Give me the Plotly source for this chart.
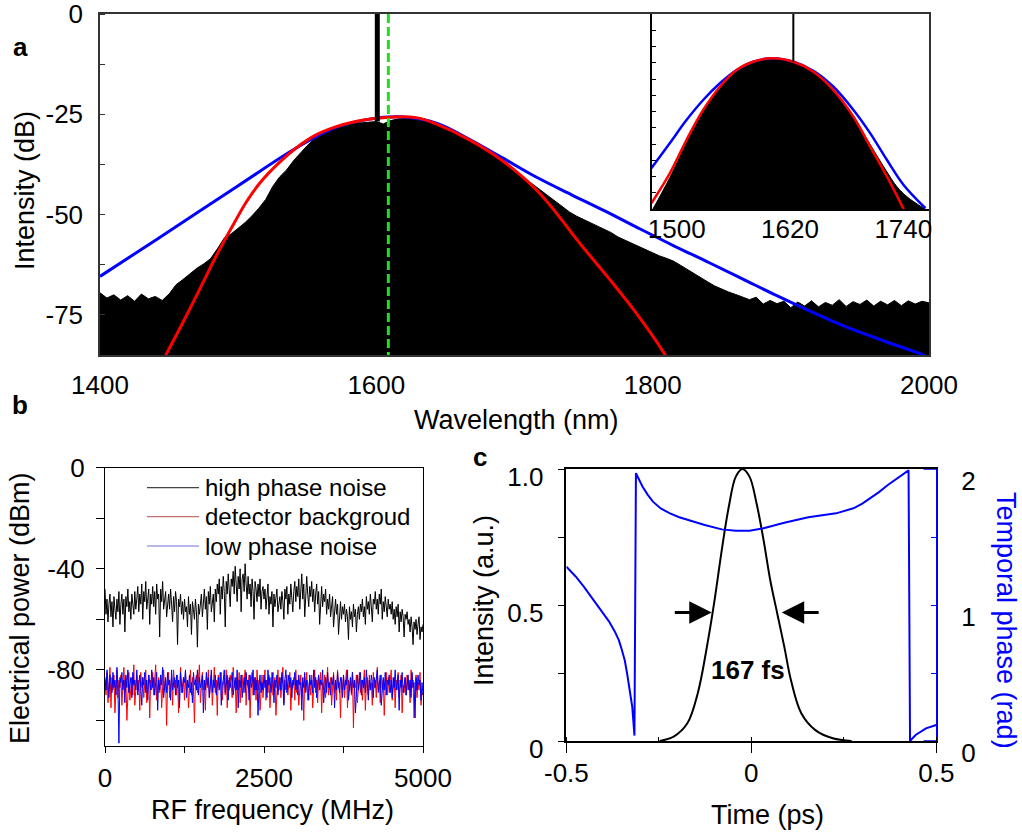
import numpy as np
import plotly.graph_objects as go

W, H = 1022, 833
FONT = "Liberation Sans, Arial, sans-serif"

# ---------------- panel a: optical spectrum ----------------
spec_wl = list(range(1400, 2001, 5))
spec_db = [
    -69.5, -70.8, -70.0, -71.3, -70.2, -71.6, -69.8, -71.0, -70.4, -71.4,   # 1400-1445
    -69.8, -67.5, -66.2, -64.8, -63.4, -62.3, -61.0, -58.5, -55.8, -54.8,   # 1450-1495
    -53.5, -52.0, -50.3, -48.4, -46.2, -43.0, -40.6, -38.9, -36.6, -34.7,   # 1500-1545
    -32.8, -31.2, -30.0, -29.0, -28.3, -27.8, -27.5, -27.2, -27.1, -26.9,   # 1550-1595
    -26.8, -27.4, -26.6, -26.2, -26.0, -25.9, -26.1, -26.4, -26.9, -27.5,   # 1600-1645
    -28.2, -29.0, -29.8, -30.7, -31.6, -32.8, -34.0, -35.3, -36.5, -37.8,   # 1650-1695
    -39.0, -40.3, -41.6, -42.8, -44.2, -45.5, -46.8, -48.1, -49.4, -50.4,   # 1700-1745
    -51.2, -52.1, -52.9, -53.6, -54.5, -55.6, -56.4, -57.2, -57.9, -58.7,   # 1750-1795
    -59.6, -60.3, -60.9, -61.6, -62.6, -63.7, -64.8, -65.8, -66.8, -67.8,   # 1800-1845
    -68.6, -69.3, -69.9, -70.5, -71.2, -70.6, -72.3, -71.4, -72.2, -71.6,   # 1850-1895
    -73.2, -71.8, -72.8, -71.5, -73.0, -71.9, -72.6, -71.2, -72.9, -71.7,   # 1900-1945
    -72.4, -71.3, -72.8, -71.6, -72.5, -71.4, -72.7, -71.5, -72.3, -71.6,   # 1950-1995
    -72.0,                                                                  # 2000
]
spec_floor = [-90.0] * len(spec_wl)

gauss_wl = [1440, 1448, 1460, 1472, 1484, 1496, 1506, 1516, 1528, 1542, 1556, 1570,
            1585, 1600, 1617, 1630, 1641, 1667, 1691, 1718, 1749, 1769, 1788, 1808, 1814]
gauss_db = [-90.5, -84.8, -76.9, -68.7, -60.4, -52.8, -46.8, -42.0, -37.6, -33.4,
            -30.2, -28.2, -26.8, -26.0, -25.6, -25.9, -27.1, -31.3, -36.5, -44.6,
            -57.9, -66.2, -74.5, -84.4, -88.0]

sech_wl = [1400, 1441, 1500, 1542, 1570, 1595, 1620, 1645, 1666, 1691, 1716, 1741,
           1766, 1791, 1816, 1841, 1866, 1891, 1916, 1940, 1965, 1993, 2000]
sech_db = [-65.4, -56.2, -42.8, -33.4, -28.4, -26.2, -25.7, -27.4, -31.0, -35.8,
           -40.7, -45.0, -49.2, -53.6, -57.9, -62.0, -66.2, -70.4, -74.4, -78.0,
           -81.2, -84.6, -85.6]

cw_line_wl = [1600.7, 1600.7]
cw_line_db = [0.0, -26.8]
center_wl = [1608.7, 1608.7]
center_db = [0.0, -85.0]

# inset (linear scale)
ins_spec_wl = [1474.8, 1492.6, 1510.3, 1528.0, 1545.7, 1563.4, 1581.0, 1600.5, 1623.5,
               1644.7, 1666.0, 1687.2, 1705.0, 1722.7, 1733.3, 1743.9, 1758.0, 1763.4]
ins_spec = [0.0, 0.16, 0.34, 0.50, 0.625, 0.712, 0.755, 0.772, 0.755, 0.705, 0.612,
            0.475, 0.33, 0.19, 0.114, 0.063, 0.015, 0.0]
ins_gauss_wl = [1473.1, 1492.6, 1510.3, 1528.0, 1545.7, 1563.4, 1581.0, 1600.5, 1623.5,
                1644.7, 1666.0, 1687.2, 1705.0, 1722.7, 1740.3]
ins_gauss = [0.029, 0.183, 0.354, 0.508, 0.627, 0.713, 0.755, 0.773, 0.755, 0.704,
             0.610, 0.473, 0.319, 0.166, 0.0]
ins_sech_wl = [1473.1, 1492.6, 1510.3, 1528.0, 1545.7, 1563.4, 1581.0, 1600.5, 1623.5,
               1644.7, 1666.0, 1687.2, 1705.0, 1722.7, 1740.3, 1763.4]
ins_sech = [0.209, 0.337, 0.456, 0.559, 0.645, 0.713, 0.755, 0.773, 0.755, 0.709,
            0.627, 0.508, 0.388, 0.251, 0.123, 0.004]
ins_line_wl = [1623.5, 1623.5]
ins_line_v = [1.0, 0.755]

# ---------------- panel b: RF spectra ----------------
rf_freq = np.linspace(0, 5000, 321)
rf_high = [
    -48, -58, -52, -61, -54, -50, -59, -53, -63, -51, -56, -60, -52, -57, -49, -62,
    -54, -50, -58, -52, -65, -51, -55, -48, -57, -53, -60, -50, -54, -58, -49, -56,
    -52, -47, -57, -50, -54, -46, -60, -49, -53, -45, -56, -51, -48, -62, -50, -54,
    -47, -55, -49, -58, -46, -52, -50, -67, -48, -53, -45, -56, -51, -49, -59, -52,
    -50, -56, -48, -54, -61, -51, -57, -49, -53, -70, -52, -55, -50, -58, -53, -60,
    -52, -57, -55, -63, -51, -58, -54, -66, -53, -56, -60, -52, -57, -71, -54, -58,
    -55, -50, -59, -53, -48, -56, -51, -64, -49, -54, -47, -57, -52, -50, -61, -48,
    -53, -46, -50, -44, -58, -47, -52, -43, -49, -63, -45, -50, -42, -48, -55, -44,
    -47, -41, -50, -39, -45, -53, -43, -48, -40, -57, -44, -42, -49, -38, -46, -52,
    -43, -50, -46, -55, -44, -49, -60, -45, -48, -53, -46, -51, -44, -56, -49, -47,
    -52, -48, -56, -50, -46, -58, -51, -54, -49, -63, -50, -55, -52, -48, -57, -53,
    -51, -56, -49, -53, -60, -48, -52, -47, -58, -50, -54, -46, -51, -57, -49, -45,
    -53, -47, -51, -44, -56, -49, -42, -52, -46, -59, -48, -43, -50, -55, -47, -51,
    -45, -53, -48, -57, -50, -46, -54, -49, -62, -51, -47, -55, -50, -53, -48, -58,
    -52, -56, -50, -59, -54, -51, -63, -55, -52, -58, -54, -66, -56, -53, -60, -55,
    -58, -54, -61, -56, -59, -68, -55, -60, -57, -63, -54, -59, -56, -65, -58, -55,
    -60, -54, -57, -52, -59, -55, -62, -51, -56, -53, -58, -50, -55, -61, -52, -54,
    -49, -56, -52, -58, -50, -54, -48, -60, -53, -57, -51, -55, -59, -52, -56, -54,
    -58, -53, -60, -56, -62, -55, -59, -54, -65, -57, -61, -56, -59, -67, -58, -60,
    -57, -62, -60, -65, -59, -63, -70, -61, -64, -60, -66, -62, -59, -68, -63, -65,
    -62,
]
rf_background = [
    -84, -90, -81, -93, -86, -79, -95, -83, -88, -82, -97, -85, -80, -91, -84, -87,
    -82, -94, -86, -79, -89, -83, -100, -85, -81, -92, -87, -83, -90, -78, -94, -86,
    -82, -88, -84, -96, -81, -87, -83, -91, -85, -80, -93, -86, -82, -99, -84, -88,
    -81, -90, -85, -78, -92, -87, -83, -89, -82, -95, -86, -80, -88, -84, -102, -85,
    -81, -91, -86, -83, -94, -80, -87, -84, -90, -82, -97, -85, -79, -89, -86, -83,
    -92, -81, -88, -84, -95, -86, -80, -90, -83, -87, -101, -84, -82, -89, -85, -78,
    -93, -86, -81, -88, -84, -96, -83, -87, -80, -91, -85, -82, -94, -86, -79, -89,
    -84, -98, -82, -87, -85, -81, -92, -86, -83, -90, -80, -95, -84, -88, -82, -86,
    -91, -79, -87, -84, -97, -83, -88, -81, -93, -85, -82, -89, -86, -80, -94, -84,
    -87, -82, -99, -85, -81, -90, -86, -83, -92, -80, -88, -84, -96, -85, -82, -91,
    -86, -80, -92, -84, -89, -82, -95, -87, -81, -90, -85, -83, -98, -86, -80, -88,
    -83, -91, -85, -79, -93, -84, -88, -82, -90, -86, -81, -96, -85, -87, -83, -92,
    -80, -89, -84, -94, -86, -82, -91, -85, -100, -83, -88, -81, -92, -86, -84, -90,
    -82, -95, -87, -80, -89, -84, -93, -83, -86, -81, -97, -85, -88, -82, -91, -86,
    -79, -90, -85, -83, -94, -86, -81, -89, -84, -92, -80, -87, -85, -99, -83, -88,
    -82, -91, -86, -80, -95, -84, -88, -83, -90, -81, -103, -85, -87, -82, -93, -86,
    -81, -89, -84, -92, -86, -80, -96, -85, -83, -90, -82, -88, -85, -94, -81, -87,
    -84, -91, -79, -88, -85, -93, -82, -87, -84, -98, -86, -81, -90, -83, -89, -85,
    -80, -92, -86, -83, -95, -84, -88, -81, -91, -85, -82, -97, -86, -89, -83, -90,
    -82, -88, -85, -93, -80, -87, -84, -99, -86, -82, -91, -85, -88, -81, -94, -89,
    -90,
]
rf_low = [
    -83, -88, -80, -86, -91, -82, -85, -89, -81, -87, -84, -90, -79, -86, -109, -83,
    -85, -81, -88, -84, -93, -82, -87, -80, -89, -85, -83, -91, -81, -86, -84, -88,
    -80, -90, -85, -82, -87, -94, -83, -86, -81, -89, -84, -92, -82, -85, -88, -80,
    -87, -83, -90, -85, -81, -96, -84, -88, -82, -86, -79, -91, -85, -83, -89, -81,
    -86, -84, -92, -80, -88, -85, -83, -90, -82, -87, -84, -95, -81, -86, -89, -83,
    -85, -80, -91, -84, -87, -82, -89, -85, -93, -81, -86, -84, -88, -80, -90, -83,
    -87, -85, -82, -97, -84, -88, -81, -86, -83, -91, -85, -80, -89, -84, -87, -82,
    -90, -85, -83, -88, -81, -94, -86, -84, -80, -89, -85, -82, -92, -83, -87, -84,
    -81, -90, -86, -83, -88, -80, -95, -84, -87, -82, -91, -85, -83, -89, -81, -86,
    -84, -92, -82, -87, -85, -80, -90, -83, -88, -84, -98, -86, -82, -89, -85, -88,
    -82, -87, -84, -91, -80, -86, -83, -89, -85, -81, -93, -84, -87, -82, -90, -85,
    -83, -88, -81, -86, -94, -84, -80, -89, -85, -82, -87, -83, -91, -84, -86, -81,
    -88, -84, -90, -82, -86, -85, -96, -83, -87, -81, -89, -84, -85, -92, -82, -86,
    -84, -89, -80, -87, -83, -91, -85, -82, -88, -84, -86, -80, -93, -85, -83, -89,
    -81, -87, -85, -90, -83, -86, -82, -95, -84, -88, -81, -86, -89, -83, -85, -91,
    -82, -88, -84, -86, -80, -92, -85, -83, -89, -81, -87, -84, -97, -86, -82, -88,
    -85, -81, -90, -84, -87, -83, -89, -80, -86, -92, -84, -88, -82, -85, -91, -83,
    -87, -84, -80, -89, -85, -82, -94, -86, -83, -88, -81, -90, -84, -86, -82, -89,
    -84, -91, -83, -87, -80, -88, -85, -82, -96, -84, -87, -81, -89, -85, -83, -90,
    -86, -82, -88, -84, -91, -81, -87, -85, -99, -83, -88, -82, -86, -84, -92, -85,
    -90,
]
legend_names = ["high phase noise", "detector backgroud", "low phase noise"]
legend_colors = ["#444444", "#c07070", "#7070d8"]

# ---------------- panel c: temporal pulse ----------------
t_int = [-0.248, -0.210, -0.173, -0.145, -0.117, -0.098, -0.080, -0.061, -0.042, -0.024,
         -0.005, 0.014, 0.033, 0.051, 0.070, 0.089, 0.107, 0.135, 0.173, 0.220, 0.271]
intensity = [0.0, 0.016, 0.065, 0.175, 0.371, 0.531, 0.702, 0.861, 0.972, 1.0,
             0.972, 0.874, 0.739, 0.592, 0.469, 0.347, 0.224, 0.102, 0.040, 0.010, 0.0]
t_ph = [-0.500, -0.475, -0.453, -0.430, -0.407, -0.385, -0.369, -0.358, -0.350, -0.342,
        -0.336, -0.329, -0.322, -0.316, -0.312, -0.305, -0.294, -0.280, -0.266, -0.245,
        -0.220, -0.195, -0.173, -0.126, -0.080, -0.042, -0.005, 0.033, 0.089, 0.154,
        0.229, 0.276, 0.300, 0.322, 0.345, 0.369, 0.400, 0.425, 0.429, 0.444, 0.472, 0.500]
phase = [1.282, 1.210, 1.135, 1.050, 0.963, 0.880, 0.804, 0.740, 0.669, 0.590,
         0.498, 0.380, 0.252, 0.040, 1.970, 1.930, 1.870, 1.810, 1.760, 1.710,
         1.674, 1.645, 1.625, 1.588, 1.556, 1.546, 1.546, 1.564, 1.605, 1.645,
         1.674, 1.711, 1.745, 1.785, 1.830, 1.882, 1.940, 1.990, 0.000, 0.044, 0.093, 0.118]
fwhm_left = [-0.211, -0.107]
fwhm_right = [0.186, 0.082]
fwhm_level = 0.472

fig = go.Figure()

# panel a
fig.add_trace(go.Scatter(x=spec_wl, y=spec_floor, mode="lines", line=dict(width=0, color="black"),
                         showlegend=False, hoverinfo="skip", xaxis="x", yaxis="y"))
fig.add_trace(go.Scatter(x=spec_wl, y=spec_db, mode="lines", fill="tonexty", fillcolor="black",
                         line=dict(width=1, color="black"), showlegend=False, xaxis="x", yaxis="y"))
fig.add_trace(go.Scatter(x=sech_wl, y=sech_db, mode="lines", line=dict(color="#0000ff", width=3, shape="spline"),
                         showlegend=False, xaxis="x", yaxis="y"))
fig.add_trace(go.Scatter(x=gauss_wl, y=gauss_db, mode="lines", line=dict(color="#ff0000", width=3, shape="spline"),
                         showlegend=False, xaxis="x", yaxis="y"))
fig.add_trace(go.Scatter(x=cw_line_wl, y=cw_line_db, mode="lines", line=dict(color="black", width=5),
                         showlegend=False, xaxis="x", yaxis="y"))
fig.add_trace(go.Scatter(x=center_wl, y=center_db, mode="lines",
                         line=dict(color="#22dd22", width=3, dash="9px,4px"),
                         showlegend=False, xaxis="x", yaxis="y"))

# inset
fig.add_trace(go.Scatter(x=ins_spec_wl, y=ins_spec, mode="lines", fill="tozeroy", fillcolor="black",
                         line=dict(color="black", width=1, shape="spline"), showlegend=False,
                         xaxis="x2", yaxis="y2"))
fig.add_trace(go.Scatter(x=ins_sech_wl, y=ins_sech, mode="lines", line=dict(color="#0000ff", width=2.5, shape="spline"),
                         showlegend=False, xaxis="x2", yaxis="y2"))
fig.add_trace(go.Scatter(x=ins_gauss_wl, y=ins_gauss, mode="lines", line=dict(color="#ff0000", width=2.5, shape="spline"),
                         showlegend=False, xaxis="x2", yaxis="y2"))
fig.add_trace(go.Scatter(x=ins_line_wl, y=ins_line_v, mode="lines", line=dict(color="black", width=2),
                         showlegend=False, xaxis="x2", yaxis="y2"))

# panel b
fig.add_trace(go.Scatter(x=rf_freq, y=rf_high, mode="lines", name=legend_names[0], showlegend=False,
                         line=dict(color="black", width=1), xaxis="x3", yaxis="y3"))
fig.add_trace(go.Scatter(x=rf_freq, y=rf_background, mode="lines", name=legend_names[1], showlegend=False,
                         line=dict(color="#ff0000", width=1), xaxis="x3", yaxis="y3"))
fig.add_trace(go.Scatter(x=rf_freq, y=rf_low, mode="lines", name=legend_names[2], showlegend=False,
                         line=dict(color="#0000ff", width=1), xaxis="x3", yaxis="y3"))

# panel c
fig.add_trace(go.Scatter(x=t_int, y=intensity, mode="lines", line=dict(color="black", width=2, shape="spline"),
                         showlegend=False, xaxis="x4", yaxis="y4"))
fig.add_trace(go.Scatter(x=t_ph, y=phase, mode="lines", line=dict(color="#0000ff", width=2),
                         showlegend=False, xaxis="x4", yaxis="y5"))

axis_common = dict(showgrid=False, zeroline=False, color="black", automargin=False,
                   ticklabeloverflow="allow")

XA0, XA1 = 100, 929
XC0, XC1 = 566.4, 936.3

fig.update_layout(
    template="none",
    width=W, height=H, margin=dict(l=0, r=0, t=0, b=0, pad=0),
    paper_bgcolor="white", plot_bgcolor="white",
    font=dict(family=FONT, size=26, color="black"),
    showlegend=False,
    xaxis=dict(domain=[XA0 / W, XA1 / W], range=[1400, 2000], anchor="y",
               showline=True, mirror=True, linecolor="#333", linewidth=1.5,
               ticks="", tickvals=[1400, 1600, 1800, 2000], ticklabelstandoff=6, **axis_common),
    yaxis=dict(domain=[1 - 355 / H, 1 - 14 / H], range=[-85, 0], anchor="x",
               showline=True, mirror=True, linecolor="#333", linewidth=1.5,
               ticks="", tickvals=[0, -25, -50, -75], ticktext=["0", "-25", "-50", "-75"],
               ticklabelstandoff=10,
               minor=dict(ticks="inside", dtick=12.5, ticklen=5, tickcolor="#333"), **axis_common),
    xaxis2=dict(domain=[652 / W, XA1 / W], range=[1473.8, 1767.2], anchor="y2",
                showline=True, linecolor="black", linewidth=1.5, ticks="",
                tickvals=[1500, 1620, 1740], ticklabelstandoff=-4, **axis_common),
    yaxis2=dict(domain=[1 - 209 / H, 1 - 14 / H], range=[0, 1], anchor="x2",
                showline=True, linecolor="black", linewidth=1.5, ticks="inside",
                tick0=0, dtick=1 / 12, ticklen=4, showticklabels=False, **axis_common),
    xaxis3=dict(domain=[105 / W, 423 / W], range=[0, 5000], anchor="y3",
                showline=True, mirror=True, linecolor="black", linewidth=1,
                ticks="outside", ticklen=6, tickvals=[0, 2500, 5000], ticklabelstandoff=3,
                minor=dict(ticks="outside", dtick=1250, ticklen=6), **axis_common),
    yaxis3=dict(domain=[1 - 745.7 / H, 1 - 467.7 / H], range=[-110, 0], anchor="x3",
                showline=True, mirror=True, linecolor="black", linewidth=1,
                ticks="outside", ticklen=8, tickvals=[0, -40, -80], ticktext=["0", "-40", "-80"],
                ticklabelstandoff=6,
                minor=dict(ticks="outside", dtick=20, ticklen=8), **axis_common),
    xaxis4=dict(domain=[XC0 / W, XC1 / W], range=[-0.5, 0.5], anchor="y4",
                showline=True, mirror=True, linecolor="black", linewidth=1.5,
                ticks="outside", ticklen=10, tickvals=[-0.5, 0, 0.5], ticktext=["-0.5", "0", "0.5"],
                ticklabelstandoff=-2, minor=dict(ticks="inside", dtick=0.25, ticklen=4), **axis_common),
    yaxis4=dict(domain=[1 - 741 / H, 1 - 469 / H], range=[0, 1], anchor="x4",
                showline=True, linecolor="black", linewidth=1.5,
                ticks="outside", ticklen=7, tickvals=[0, 0.5, 1], ticktext=["0", "0.5", "1.0"],
                ticklabelstandoff=9, ticklabelshift=8,
                minor=dict(ticks="outside", dtick=0.25, ticklen=7), **axis_common),
    yaxis5=dict(range=[0, 2], overlaying="y4", side="right", anchor="x4",
                showline=True, linecolor="#0000ff", linewidth=1.5,
                ticks="inside", ticklen=6, tickcolor="#0000ff", tickvals=[0, 1, 2],
                tickfont=dict(color="black"), ticklabelstandoff=18, ticklabelshift=12,
                minor=dict(ticks="inside", dtick=0.5, ticklen=6, tickcolor="#0000ff"), **axis_common),
)

# blue frame pieces at right of panel c
fig.add_shape(type="line", x0=0.4655, x1=0.5, y0=1, y1=1, xref="x4", yref="y4",
              line=dict(color="#0000ff", width=1.5))
fig.add_shape(type="line", x0=0.4655, x1=0.5, y0=0, y1=0, xref="x4", yref="y4",
              line=dict(color="#0000ff", width=1.5))

ann = []
def paper_text(text, x, y, size=27, angle=0, color="black", bold=False, xanchor="center"):
    ann.append(dict(text=f"<b>{text}</b>" if bold else text, x=x / W, y=1 - y / H,
                    xref="paper", yref="paper", showarrow=False, textangle=angle,
                    font=dict(size=size, color=color, family=FONT),
                    xanchor=xanchor, yanchor="middle"))

# manual legend for panel b
legend_rows = [487.7, 516.7, 546.0]
for name, col, yrow in zip(legend_names, legend_colors, legend_rows):
    fig.add_shape(type="line", x0=147 / W, x1=199 / W, y0=1 - yrow / H, y1=1 - yrow / H,
                  xref="paper", yref="paper", line=dict(color=col, width=1.2))
    paper_text(name, 203, yrow, size=24, xanchor="left")

paper_text("a", 20, 47, size=26, bold=True)
paper_text("b", 20, 405, size=26, bold=True)
paper_text("c", 480, 457, size=26, bold=True)
paper_text("Wavelength (nm)", 516, 420)
paper_text("Intensity (dB)", 25, 191, angle=-90)
paper_text("Electrical power (dBm)", 20, 608, angle=-90)
paper_text("RF frequency (MHz)", 272, 810)
paper_text("Intensity (a.u.)", 484, 601, angle=-90)
paper_text("Time (ps)", 767, 815)
paper_text("Temporal phase (rad)", 1006, 620, angle=90, color="#0000ff")

ann.append(dict(text="<b>167 fs</b>", x=-0.008, y=0.261, xref="x4", yref="y4", showarrow=False,
                font=dict(size=26, family=FONT, color="black")))
ann.append(dict(text="", x=fwhm_left[1], y=fwhm_level, ax=fwhm_left[0], ay=fwhm_level,
                xref="x4", yref="y4", axref="x4", ayref="y4", showarrow=True,
                arrowhead=2, arrowsize=1.5, arrowwidth=3, arrowcolor="black"))
ann.append(dict(text="", x=fwhm_right[1], y=fwhm_level, ax=fwhm_right[0], ay=fwhm_level,
                xref="x4", yref="y4", axref="x4", ayref="y4", showarrow=True,
                arrowhead=2, arrowsize=1.5, arrowwidth=3, arrowcolor="black"))
fig.update_layout(annotations=ann)

fig.write_html("out.html")
